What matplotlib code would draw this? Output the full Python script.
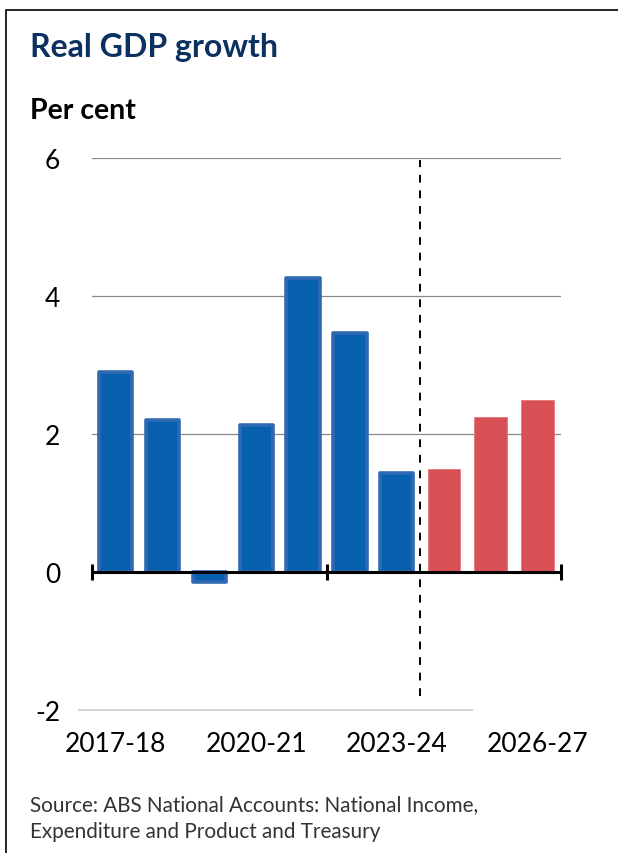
"""
Real GDP growth, outcomes and forecasts, 2017-18 to 2026-27.
"""

import matplotlib
matplotlib.use('Agg')
import matplotlib.pyplot as plt
import numpy as np
from matplotlib.patches import Rectangle


# Data (per cent).
years = ['2017-18', '2018-19', '2019-20', '2020-21', '2021-22',
         '2022-23', '2023-24', '2024-25', '2025-26', '2026-27']
actual = [2.90, 2.20, -0.15, 2.13, 4.26, 3.46, 1.43]
forecast = [1.50, 2.25, 2.50]
shown_labels = ['2017-18', '2020-21', '2023-24', '2026-27']

plt.rcParams['font.family'] = ['Lato', 'DejaVu Sans']
plt.rcParams['axes.unicode_minus'] = False

navy = '#0b3160'
blue = '#0760ae'
blue_edge = '#3069b3'
red = '#d95057'

fig = plt.figure(figsize=(6.18, 8.54), dpi=100)
ax = fig.add_axes([92 / 618, 143 / 854, 469 / 618, 552 / 854])

x = np.arange(len(years))
n_act = len(actual)

# Gridlines.
for yv in [2, 4, 6]:
    ax.axhline(yv, color='#8a8a8a', lw=0.9, zorder=0)
ax.hlines(-2, -0.8, 7.62, color='#cccccc', lw=1.2, zorder=0, clip_on=False)

# Bars: outcomes in blue, forecasts in red.
ax.bar(x[:n_act], actual, width=0.71, color=blue, edgecolor=blue_edge,
       linewidth=2.6, joinstyle='round', zorder=2)
ax.bar(x[n_act:], forecast, width=0.69, color=red, edgecolor='#e3777c',
       linewidth=0.6, zorder=2)

# Zero line with end and mid ticks.
ax.hlines(0, -0.5, 9.5, color='black', lw=2.2, zorder=3)
ax.plot([-0.5, 4.5, 9.5], [0, 0, 0], ls='', marker='|', ms=11, mew=2.2,
        color='black', zorder=3, clip_on=False)

# Forecast divider.
ax.vlines(n_act - 0.5, -1.8, 5.97, colors='black', lw=1.4,
          linestyles=(0, (4, 4)), zorder=3)

ax.set_xlim(-0.5, 9.5)
ax.set_ylim(-2, 6)
for s in ax.spines.values():
    s.set_visible(False)

ax.set_yticks([-2, 0, 2, 4, 6])
ax.set_yticklabels(['-2', '0', '2', '4', '6'])
ax.set_xticks([years.index(l) for l in shown_labels])
ax.set_xticklabels(shown_labels)
ax.tick_params(axis='y', length=0, pad=23, labelsize=19)
ax.tick_params(axis='x', length=0, pad=15, labelsize=19)

# Titles and source.
fig.text(30 / 618, 1 - 57 / 854, 'Real GDP growth', fontsize=23,
         fontweight='bold', color=navy, va='baseline')
fig.text(30 / 618, 1 - 119 / 854, 'Per cent', fontsize=20.5,
         fontweight='bold', color='black', va='baseline')
fig.text(30 / 618, 1 - 811 / 854, 'Source: ABS National Accounts: National Income,',
         fontsize=14.9, color='#333333', va='baseline')
fig.text(30 / 618, 1 - 838 / 854, 'Expenditure and Product and Treasury',
         fontsize=14.9, color='#333333', va='baseline')

# Panel frame.
fig.patches.append(Rectangle((6 / 618, -0.05), 1.2, 1 - 11 / 854 + 0.05,
                             transform=fig.transFigure, fill=False,
                             edgecolor='black', lw=1.2))

fig.savefig('out.png', dpi=100)
